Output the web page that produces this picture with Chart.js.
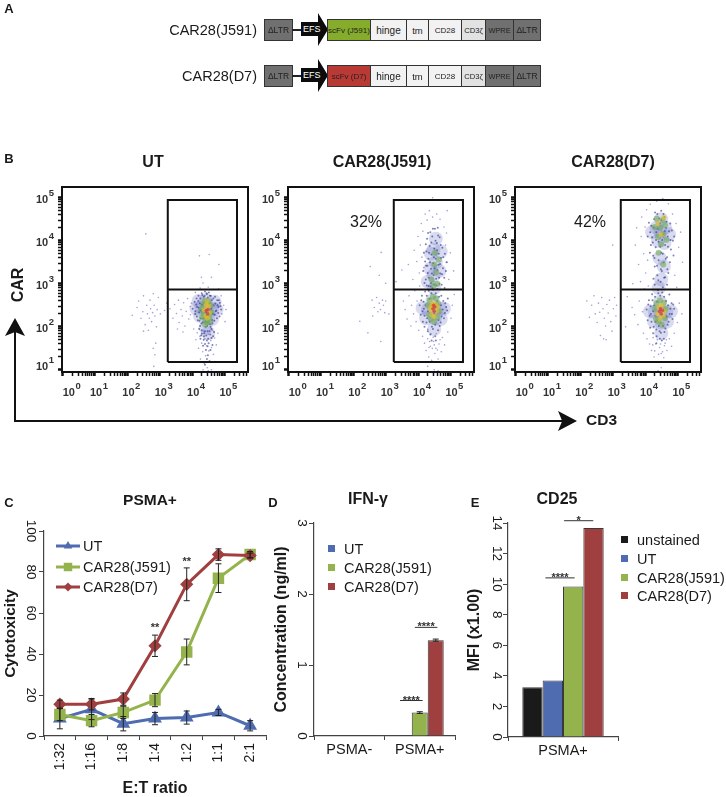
<!DOCTYPE html>
<html>
<head>
<meta charset="utf-8">
<title>CAR28 constructs, flow plots and assays</title>
<script src="https://cdn.jsdelivr.net/npm/chart.js@4/dist/chart.umd.min.js"></script>
<style>
    html, body { margin: 0; background: #fff; }
    #page { position: relative; width: 726px; height: 797px; overflow: hidden; filter: blur(0.35px); font-family: "Liberation Sans", Arial, sans-serif; color: #1a1a1a; }
    #page canvas { position: absolute; }
    .txt { position: absolute; white-space: nowrap; transform: translate(-50%, -50%); }
    .left { transform: translateY(-50%); }
    .right { transform: translate(-100%, -50%); }
    .up { transform: translate(-50%, -50%) rotate(-90deg); }
    .seg { position: absolute; box-sizing: border-box; border: 1px solid #333; display: flex; align-items: center; justify-content: center; white-space: nowrap; overflow: hidden; }
    .box { position: absolute; }
</style>
</head>
<body>
<div id="page"></div>
<script>
// panel C
const ratios = ['1:32', '1:16', '1:8', '1:4', '1:2', '1:1', '2:1'];
const cytoUT = [8.5, 13, 6, 8.5, 9, 11.5, 5];
const cytoJ591 = [10.5, 7.5, 11.5, 17.5, 41, 77, 88.5];
const cytoD7 = [15.5, 15.5, 18, 44, 74, 88.5, 88];
const errUT = [5, 5, 3.5, 3, 3.2, 1.5, 2.5];
const errJ591 = [3, 3, 3, 3.2, 6.3, 7, 1.5];
const errD7 = [2, 2.8, 3, 5.2, 8, 2.8, 1.2];
// panel D
const assayGroups = ['PSMA-', 'PSMA+'];
const concUT = [0.01, 0.005];
const concJ591 = [0.01, 0.33];
const concD7 = [0.01, 1.35];
const concErrJ591 = [0, 0.012];
const concErrD7 = [0, 0.015];
// panel E
const cd25Group = ['PSMA+'];
const mfiNone = [3.25];
const mfiUT = [3.69];
const mfiJ591 = [9.85];
const mfiD7 = [13.67];

// significance marks: [from index, to index, value, text]
const sigC = [[3, 3, 52.7, '**'], [4, 4, 84.9, '**']];
const sigD = [[0.72, 1.04, 0.5, '****'], [0.93, 1.25, 1.53, '****']];
const sigE = [[-0.16, 0.106, 10.41, '****'], [0.01, 0.275, 14.15, '*']];

// flow plots, all in log10 units
const gateX = [3.25, 5.39];
const gateY = [1.18, 2.87, 4.95];
const xDecades = [0, 1, 2, 3, 4, 5];
const yDecades = [1, 2, 3, 4, 5];

const utSparse = [[2.15,2.27],[2.3,2.45],[2.35,2.6],[2.42,2.2],[2.48,2.35],[2.5,2.72],[2.55,2.05],[2.6,2.5],[2.62,2.3],[2.68,2.2],[2.7,2.62],[2.72,2.42],[2.75,2.12],[2.78,2.33],[2.8,2.77],[2.83,2.5],[2.85,2.25],[2.9,2.0],[2.92,2.4],[2.96,2.68],[3.02,2.3],[2.5,1.9],[2.65,1.92],[2.88,1.62],[2.8,1.5],[2.85,1.35],[2.82,1.08],[2.57,4.16],[4.23,3.65],[4.53,3.68],[4.83,3.45],[4.29,3.15],[4.6,3.15],[4.34,3.02],
    [3.32,2.42],[3.41,2.2],[3.46,2.52],[3.52,2.31],[3.58,2.62],[3.6,2.1],[3.66,2.4],[3.7,2.25],[3.74,2.56],[3.78,2.02],[3.82,2.36],[3.86,2.66],[3.9,2.18],[3.94,2.47],[3.55,1.95],[3.72,1.88],[3.15,2.38],[3.22,2.55],
    [4.05,1.95],[4.12,1.7],[4.16,1.86],[4.2,1.5],[4.24,1.78],[4.26,1.25],[4.3,1.62],[4.33,1.42],[4.36,1.9],[4.38,1.15],[4.4,1.72],[4.42,1.33],[4.45,1.56],[4.47,1.05],[4.5,1.83],[4.52,1.44],[4.55,1.2],[4.58,1.68],[4.6,1.52],[4.63,1.92],[4.66,1.36],[4.7,1.74],[4.75,1.58],[4.8,1.85],[4.34,1.0],[4.5,0.98],[4.6,1.0],
    [4.92,2.3],[4.98,2.5],[5.02,2.12],[5.05,2.4],[4.9,2.72],[4.82,2.88],[4.1,2.8],[4.25,2.9],[4.5,2.92],[3.98,2.55],[3.95,2.28]];
const utBlue = [[4.02,2.42],[4.08,2.58],[4.1,2.3],[4.14,2.66],[4.16,2.46],[4.18,2.15],[4.2,2.72],[4.22,2.34],[4.24,2.55],[4.25,2.02],[4.27,2.2],[4.3,2.78],[4.3,1.92],[4.33,2.1],[4.36,2.7],[4.38,1.85],[4.4,2.82],[4.42,2.0],[4.46,2.76],[4.48,1.9],[4.52,2.8],[4.55,2.06],[4.58,2.72],[4.6,1.95],[4.62,2.16],[4.66,2.66],[4.7,2.28],[4.72,2.54],[4.75,2.38],[4.78,2.62],[4.82,2.46],[4.85,2.24],[4.86,2.56],[4.9,2.4],[4.44,1.8],[4.5,1.72],[4.36,1.7],[4.56,1.82],[4.28,1.8],[4.65,1.78],[4.4,1.6],[4.48,1.55],
    [4.1,2.36],[4.13,2.52],[4.15,2.24],[4.19,2.6],[4.21,2.44],[4.23,2.14],[4.26,2.66],[4.26,2.38],[4.29,2.08],[4.31,2.52],[4.32,2.74],[4.35,2.2],[4.37,2.44],[4.39,2.72],[4.41,2.12],[4.43,2.34],[4.45,2.78],[4.47,2.02],[4.49,2.68],[4.51,2.14],[4.53,2.56],[4.55,2.72],[4.57,2.0],[4.59,2.42],[4.61,2.62],[4.63,2.08],[4.65,2.3],[4.67,2.5],[4.69,2.14],[4.71,2.7],[4.73,2.36],[4.77,2.2],[4.79,2.5],[4.81,2.32],[4.83,2.62],[4.88,2.48],
    [4.22,1.95],[4.26,1.72],[4.3,1.84],[4.34,1.56],[4.37,1.78],[4.4,1.9],[4.43,1.46],[4.46,1.68],[4.49,1.34],[4.51,1.62],[4.54,1.9],[4.57,1.46],[4.6,1.74],[4.63,1.58],[4.68,1.88],[4.46,1.25],[4.54,1.2],[4.4,1.12]];
const utHalo = [[4.45,2.4],[4.28,2.45],[4.62,2.42],[4.42,2.62],[4.5,2.2],[4.25,2.25],[4.62,2.18],[4.7,2.58],[4.2,2.6],[4.42,1.98],[4.5,1.85],[4.14,2.42],[4.76,2.4]];
const utGreen = [[4.28,2.4],[4.3,2.22],[4.34,2.52],[4.36,2.3],[4.4,2.62],[4.42,2.16],[4.46,2.1],[4.5,2.6],[4.54,2.22],[4.58,2.5],[4.6,2.34],[4.4,2.05],[4.56,2.12]];
const utYellow = [[4.38,2.4],[4.42,2.26],[4.44,2.5],[4.48,2.2],[4.52,2.48],[4.54,2.32],[4.47,2.58]];
const utRed = [[4.44,2.38],[4.5,2.4],[4.48,2.3]];

const j591Sparse = [[2.86,3.73],[2.8,3.2],[2.52,3.4],[3.0,3.01],[2.58,2.62],[2.65,2.45],[2.72,2.68],[2.76,2.35],[2.8,2.55],[2.84,2.4],[2.9,2.62],[2.93,2.5],[2.97,2.33],[3.0,2.6],[2.6,2.25],[2.2,2.13],[2.45,1.86],[2.85,1.66],[3.1,2.3],
    [3.32,3.05],[3.5,3.32],[3.55,2.6],[3.6,2.4],[3.66,2.18],[3.7,3.45],[3.72,2.72],[3.78,2.02],[3.8,2.5],[3.84,3.1],[3.86,2.3],[3.88,3.78],[3.9,2.84],[3.94,2.12],[3.96,3.52],[3.97,2.6],[4.0,4.1],[4.02,1.92],[4.04,3.25],[4.05,2.95],[4.07,3.9],[4.1,4.4],[4.12,3.62],[4.14,1.78],[4.15,4.22],[4.18,3.38],[4.2,1.62],[4.22,4.62],[4.25,1.45],[4.28,4.48],[4.3,1.72],[4.33,1.3],[4.35,4.7],[4.38,1.55],[4.42,1.22],[4.45,4.55],[4.48,1.66],[4.52,1.38],[4.55,1.5],[4.58,4.62],[4.62,1.25],[4.65,1.6],[4.68,4.5],[4.72,1.42],[4.75,1.75],[4.8,4.32],[4.82,1.58],[4.85,3.9],[4.88,4.18],[4.9,3.5],[4.92,1.88],[4.95,3.1],[5.0,3.72],[5.02,2.2],[5.06,2.5],[5.1,3.3],[5.12,2.75],[4.45,5.0],[4.9,4.7],[4.3,1.08],[4.5,1.0],[4.62,0.98],
    [4.3,1.94],[4.36,1.66],[4.4,1.84],[4.44,1.5],[4.47,1.76],[4.5,1.58],[4.56,1.84],[4.6,1.46],[4.68,1.7],[4.34,1.52]];
const j591Blue = [[4.05,2.5],[4.08,2.28],[4.12,2.72],[4.15,2.12],[4.18,2.42],[4.2,2.0],[4.22,2.82],[4.24,3.1],[4.25,3.42],[4.26,3.75],[4.28,2.2],[4.28,4.05],[4.3,1.9],[4.3,3.25],[4.32,3.58],[4.33,2.95],[4.35,2.65],[4.36,3.88],[4.38,4.2],[4.38,1.82],[4.4,3.35],[4.4,3.02],[4.42,3.68],[4.44,2.9],[4.44,4.1],[4.46,1.95],[4.47,3.48],[4.48,3.2],[4.5,3.82],[4.5,2.98],[4.52,4.28],[4.53,1.78],[4.55,3.58],[4.56,3.12],[4.58,3.95],[4.6,3.32],[4.6,2.88],[4.62,1.92],[4.62,4.12],[4.64,3.7],[4.66,3.0],[4.68,3.46],[4.7,2.1],[4.7,3.9],[4.72,2.72],[4.74,3.22],[4.76,2.4],[4.78,3.62],[4.8,2.2],[4.82,2.9],[4.84,2.55],[4.86,3.3],[4.9,2.38],[4.92,2.66],[4.42,1.68],[4.55,1.68],
    [4.1,2.62],[4.14,2.36],[4.17,2.58],[4.2,2.26],[4.23,2.5],[4.26,2.1],[4.27,2.72],[4.31,2.36],[4.33,2.84],[4.36,2.12],[4.39,2.52],[4.41,2.78],[4.43,2.0],[4.47,2.86],[4.49,2.3],[4.53,2.05],[4.55,2.78],[4.59,2.6],[4.63,2.16],[4.65,2.7],[4.67,2.02],[4.71,2.5],[4.73,2.24],[4.78,2.6],[4.83,2.32],[4.87,2.46],
    [4.16,3.3],[4.18,3.72],[4.2,3.02],[4.22,3.52],[4.24,3.92],[4.27,2.96],[4.29,3.42],[4.31,4.18],[4.34,3.14],[4.34,3.72],[4.37,3.5],[4.39,2.94],[4.41,3.96],[4.43,3.24],[4.46,4.28],[4.49,3.62],[4.51,3.36],[4.54,4.0],[4.57,2.96],[4.59,3.78],[4.61,4.3],[4.63,3.44],[4.65,3.14],[4.67,4.08],[4.71,3.6],[4.73,2.98],[4.75,3.84],[4.77,3.36],[4.81,3.14],[4.83,3.7],[4.88,3.5],[4.69,3.24]];
const j591Halo = [[4.5,2.42],[4.3,2.4],[4.68,2.42],[4.45,2.62],[4.52,2.2],[4.25,2.2],[4.7,2.18],[4.5,2.9],[4.48,3.2],[4.55,3.5],[4.48,3.8],[4.55,4.05],[4.38,3.35],[4.66,3.3],[4.4,3.7],[4.5,1.95],[4.14,2.44],[4.8,2.42],[4.7,3.75],[4.3,3.05]];
const j591Green = [[4.3,2.5],[4.34,2.28],[4.36,2.62],[4.4,2.18],[4.42,3.1],[4.46,2.7],[4.5,2.12],[4.5,3.45],[4.52,3.72],[4.55,2.66],[4.56,3.26],[4.6,2.22],[4.62,2.55],[4.64,3.56],[4.66,2.36],[4.48,2.96],[4.6,3.0]];
const j591Yellow = [[4.38,2.4],[4.42,2.28],[4.44,2.55],[4.5,2.24],[4.54,2.52],[4.58,2.36],[4.6,2.46],[4.4,2.48]];
const j591Red = [[4.46,2.42],[4.5,2.36],[4.52,2.46],[4.48,2.5]];

const d7Sparse = [[2.2,2.6],[2.28,2.22],[2.35,2.5],[2.42,2.72],[2.46,2.3],[2.52,2.1],[2.56,2.55],[2.6,2.34],[2.66,2.68],[2.7,2.42],[2.74,2.2],[2.78,2.02],[2.82,2.52],[2.86,2.32],[2.9,2.62],[2.94,2.12],[2.98,1.9],[3.02,2.42],[3.06,2.68],[3.1,2.25],[3.12,2.5],[2.62,1.8],[2.72,1.72],[2.8,1.7],[3.0,3.9],[3.4,2.0],
    [3.45,2.7],[3.6,2.45],[3.62,3.0],[3.68,2.28],[3.7,3.9],[3.74,4.3],[3.78,2.05],[3.8,3.45],[3.82,2.6],[3.86,3.05],[3.88,4.1],[3.9,4.55],[3.92,2.35],[3.95,1.85],[3.96,3.7],[3.98,2.88],[4.0,4.32],[4.02,3.25],[4.05,4.72],[4.06,1.72],[4.08,3.55],[4.1,2.95],[4.14,1.6],[4.16,4.85],[4.2,1.45],[4.25,1.75],[4.28,1.3],[4.33,1.6],[4.36,4.92],[4.4,1.18],[4.45,1.52],[4.5,1.38],[4.55,4.98],[4.58,1.28],[4.62,1.62],[4.68,1.45],[4.72,4.86],[4.75,1.72],[4.82,1.55],[4.85,4.62],[4.9,1.85],[4.92,3.2],[4.96,4.4],[4.98,2.92],[5.0,2.1],[5.04,3.85],[5.06,2.55],[5.1,4.2],[5.14,2.3],[5.16,3.5],[4.4,0.98],[4.5,1.05],
    [4.24,1.58],[4.3,1.44],[4.38,1.7],[4.42,1.36],[4.48,1.6],[4.54,1.42],[4.6,1.56],[4.66,1.7]];
const d7Blue = [[4.05,2.4],[4.08,2.15],[4.12,2.62],[4.16,1.98],[4.18,2.3],[4.18,3.9],[4.2,4.35],[4.22,2.76],[4.22,4.08],[4.25,1.85],[4.25,3.65],[4.26,3.12],[4.28,2.5],[4.28,4.5],[4.3,3.4],[4.3,2.98],[4.32,2.12],[4.33,3.85],[4.35,4.2],[4.36,1.78],[4.38,4.62],[4.38,3.2],[4.4,2.85],[4.42,3.55],[4.42,3.98],[4.45,1.9],[4.46,4.4],[4.48,3.05],[4.5,3.72],[4.5,4.7],[4.52,3.3],[4.52,1.68],[4.55,2.92],[4.56,4.15],[4.58,3.5],[4.6,4.55],[4.6,1.88],[4.62,3.15],[4.62,3.9],[4.65,4.3],[4.68,2.98],[4.68,3.62],[4.7,2.05],[4.7,4.1],[4.72,3.25],[4.75,2.75],[4.76,2.3],[4.78,4.4],[4.8,3.8],[4.82,2.55],[4.85,2.18],[4.86,4.0],[4.9,2.42],[4.35,1.62],[4.46,1.72],[4.58,1.72],
    [4.1,2.52],[4.14,2.26],[4.17,2.48],[4.2,2.12],[4.23,2.62],[4.25,2.36],[4.27,2.0],[4.31,2.7],[4.33,2.26],[4.35,1.94],[4.37,2.58],[4.41,2.78],[4.43,2.02],[4.47,2.72],[4.49,1.86],[4.53,2.8],[4.56,2.02],[4.59,2.7],[4.63,1.96],[4.65,2.6],[4.67,2.24],[4.71,2.5],[4.73,2.12],[4.78,2.42],[4.83,2.3],[4.87,2.52],
    [4.08,4.1],[4.12,4.42],[4.15,3.72],[4.16,4.2],[4.24,3.96],[4.27,4.3],[4.29,3.6],[4.31,4.66],[4.34,4.02],[4.37,3.42],[4.39,4.28],[4.41,3.08],[4.44,4.52],[4.47,3.86],[4.49,3.34],[4.51,4.48],[4.53,4.02],[4.55,3.7],[4.57,4.62],[4.59,3.14],[4.61,4.22],[4.64,3.58],[4.66,4.44],[4.69,3.34],[4.71,3.86],[4.74,4.22],[4.77,3.5],[4.79,4.02],[4.83,4.24],[4.88,3.66],[4.9,4.1]];
const d7Halo = [[4.48,2.34],[4.3,2.35],[4.66,2.35],[4.46,2.58],[4.5,2.1],[4.28,2.12],[4.68,2.12],[4.5,1.85],[4.48,4.2],[4.35,4.3],[4.62,4.3],[4.4,4.0],[4.6,3.95],[4.5,4.5],[4.45,3.6],[4.58,3.4],[4.5,3.1],[4.42,2.9],[4.15,2.36],[4.8,2.36],[4.22,4.2],[4.74,4.15]];
const d7Green = [[4.3,2.42],[4.34,2.18],[4.36,2.55],[4.42,2.12],[4.46,2.62],[4.52,2.05],[4.58,2.56],[4.62,2.2],[4.64,2.42],[4.3,4.32],[4.36,4.52],[4.4,4.08],[4.46,4.3],[4.5,3.92],[4.54,4.48],[4.56,4.16],[4.62,4.36],[4.66,4.02],[4.42,3.72],[4.56,3.45]];
const d7Yellow = [[4.38,2.3],[4.42,2.46],[4.46,2.18],[4.52,2.5],[4.56,2.26],[4.6,2.36],[4.4,4.4],[4.5,4.14],[4.58,4.54]];
const d7Red = [[4.44,2.36],[4.5,2.3],[4.48,2.42],[4.54,2.38]];

// construct rows in panel A
const segNames = ['hinge', 'tm', 'CD28', 'CD3ζ', 'WPRE', 'ΔLTR'];
const segColors = ['#f2f2f2', '#f2f2f2', '#f2f2f2', '#e2e2e2', '#707070', '#707070'];
const segFonts = [10, 9.5, 8, 7.6, 7.4, 8.5];
const segEdges = [370, 406, 428, 461, 485, 513, 540];

const ink = '#1a1a1a';
const axisGrey = '#444';
const blue = '#4f6cb0';
const green = '#95b34c';
const red = '#a03f3f';
const page = document.getElementById('page');

function addText(text, x, y, size, opts = {}) {
    const el = document.createElement('div');
    el.className = 'txt ' + (opts.cls || '');
    el.textContent = text;
    el.style.left = x + 'px';
    el.style.top = y + 'px';
    el.style.fontSize = size + 'px';
    if (opts.bold) el.style.fontWeight = 'bold';
    page.appendChild(el);
}
function addBox(x, y, w, h, color, clip) {
    const el = document.createElement('div');
    el.className = 'box';
    el.style.cssText = `left:${x}px;top:${y}px;width:${w}px;height:${h}px;background:${color};` + (clip ? `clip-path:${clip};` : '');
    page.appendChild(el);
}
function addSeg(text, x0, x1, y, color, size) {
    const el = document.createElement('div');
    el.className = 'seg';
    el.textContent = text;
    el.style.cssText = `left:${x0}px;top:${y}px;width:${x1 - x0 + 1}px;height:22px;background:${color};color:#222;font-size:${size}px;`;
    page.appendChild(el);
}
function addCanvas(x, y, w, h) {
    const c = document.createElement('canvas');
    c.width = w;
    c.height = h;
    c.style.left = x + 'px';
    c.style.top = y + 'px';
    page.appendChild(c);
    return c.getContext('2d');
}

// panel A
function drawConstruct(label, y, scfv, scfvColor) {
    addText(label, 257, y + 10.5, 14.5, { cls: 'right' });
    addSeg('ΔLTR', 264, 292, y, '#707070', 8.5);
    addBox(292, y + 10, 10, 1.5, '#222');
    const arrow = document.createElement('div');
    arrow.className = 'box';
    arrow.textContent = 'EFS';
    arrow.style.cssText = `left:301px;top:${y - 6}px;width:28px;height:33px;background:#0c0c0c;color:#fff;font-size:9px;line-height:33px;text-indent:2px;clip-path:polygon(0 9px,17px 9px,17px 0,27px 16.5px,17px 33px,17px 23px,0 23px);`;
    page.appendChild(arrow);
    addSeg(scfv, 327, 370, y, scfvColor, 8);
    segNames.forEach((name, i) => {
        addSeg(name, segEdges[i], segEdges[i + 1], y, segColors[i], segFonts[i]);
    });
}
drawConstruct('CAR28(J591)', 19, 'scFv (J591)', '#86ac2c');
drawConstruct('CAR28(D7)', 65, 'scFv (D7)', '#b93a35');

addText('A', 9, 8, 13, { bold: true });
addText('B', 9, 158, 13, { bold: true });
addText('C', 9, 502, 13, { bold: true });
addText('D', 273, 502, 13, { bold: true });
addText('E', 475, 502, 13, { bold: true });

addText('UT', 153, 162, 16, { bold: true });
addText('CAR28(J591)', 382, 162, 16, { bold: true });
addText('CAR28(D7)', 613, 162, 16, { bold: true });
addText('CAR', 18, 285, 16, { bold: true, cls: 'up' });
addText('CD3', 586, 420, 15.5, { bold: true, cls: 'left' });
addText('32%', 366, 222, 16);
addText('42%', 590, 222, 16);

// big axes arrows of panel B
addBox(14, 325, 2, 97, '#111');
addBox(14, 420, 548, 2, '#111');
addBox(5, 318, 20, 18, '#111', 'polygon(50% 0,100% 100%,50% 78%,0 100%)');
addBox(558, 411, 19, 20, '#111', 'polygon(0 0,100% 50%,0 100%,22% 50%)');

addText('PSMA+', 150, 500, 15.5, { bold: true });
addText('IFN-γ', 368, 499, 16, { bold: true });
addText('CD25', 557, 499, 16, { bold: true });

// legends of D and E
function squareLegend(names, colors, x, ys) {
    names.forEach((name, i) => {
        addBox(x, ys[i] - 4, 7, 7, colors[i]);
        addText(name, x + 16, ys[i], 14.5, { cls: 'left' });
    });
}
squareLegend(['UT', 'CAR28(J591)', 'CAR28(D7)'], [blue, green, red], 328, [549, 568, 587]);
squareLegend(['unstained', 'UT', 'CAR28(J591)', 'CAR28(D7)'], [ink, blue, green, red], 621, [540, 559, 577.5, 596]);

const fixSize = (prop, size) => function(scale) { scale[prop] = size; };

const errorBars = {
    id: 'errorBars',
    afterDatasetsDraw(chart) {
        const { ctx, scales: { y } } = chart;
        ctx.save();
        ctx.strokeStyle = '#222';
        ctx.lineWidth = 1;
        chart.data.datasets.forEach((ds, d) => {
            if (!ds.errors) return;
            chart.getDatasetMeta(d).data.forEach((el, i) => {
                if (!ds.errors[i]) return;
                const top = y.getPixelForValue(ds.data[i] + ds.errors[i]);
                const bot = y.getPixelForValue(ds.data[i] - ds.errors[i]);
                ctx.beginPath();
                ctx.moveTo(el.x, top);
                ctx.lineTo(el.x, bot);
                ctx.moveTo(el.x - 3, top);
                ctx.lineTo(el.x + 3, top);
                ctx.moveTo(el.x - 3, bot);
                ctx.lineTo(el.x + 3, bot);
                ctx.stroke();
            });
        });
        ctx.restore();
    }
};

const sigMarks = {
    id: 'sigMarks',
    afterDraw(chart, args, opts) {
        const { ctx, scales: { x, y } } = chart;
        ctx.save();
        ctx.fillStyle = '#333';
        ctx.strokeStyle = '#333';
        ctx.lineWidth = 1;
        ctx.font = 'bold 11px "Liberation Sans"';
        ctx.textAlign = 'center';
        opts.marks.forEach(([from, to, val, text]) => {
            const x0 = x.getPixelForValue(from);
            const x1 = x.getPixelForValue(to);
            const py = y.getPixelForValue(val);
            if (to > from) {
                ctx.beginPath();
                ctx.moveTo(x0, py);
                ctx.lineTo(x1, py);
                ctx.stroke();
            }
            ctx.fillText(text, (x0 + x1) / 2, py + 3);
        });
        ctx.restore();
    }
};

function assayY(title, max, step, width, titlePad, tickPad, titleSize) {
    return {
        min: 0,
        max: max,
        afterFit: fixSize('width', width),
        border: { color: axisGrey, width: 1.2 },
        grid: { drawOnChartArea: false, color: axisGrey, tickLength: 5 },
        ticks: {
            stepSize: step,
            color: ink,
            font: { size: 13.5, family: '"Liberation Sans"' },
            minRotation: -90,
            maxRotation: -90,
            crossAlign: 'center',
            padding: tickPad
        },
        title: {
            display: true,
            text: title,
            color: ink,
            font: { size: titleSize, weight: 'bold', family: '"Liberation Sans"' },
            padding: { top: titlePad, bottom: 0 }
        }
    };
}
function assayX(height) {
    return {
        afterFit: fixSize('height', height),
        border: { color: axisGrey, width: 1.2 },
        grid: { drawOnChartArea: false, offset: true, color: axisGrey, tickLength: 4 },
        ticks: { color: ink, font: { size: 14.5, family: '"Liberation Sans"' }, padding: 1, maxRotation: 0 }
    };
}

// panel C
new Chart(addCanvas(0, 515, 280, 282), {
    type: 'line',
    data: {
        labels: ratios,
        datasets: [
            { label: 'CAR28(D7)', data: cytoD7, errors: errD7, borderColor: red, backgroundColor: red, borderWidth: 3, pointStyle: 'rectRot', pointRadius: 4.5 },
            { label: 'CAR28(J591)', data: cytoJ591, errors: errJ591, borderColor: green, backgroundColor: green, borderWidth: 3, pointStyle: 'rect', pointRadius: 6 },
            { label: 'UT', data: cytoUT, errors: errUT, borderColor: blue, backgroundColor: blue, borderWidth: 3, pointStyle: 'triangle', pointRadius: 5 }
        ]
    },
    options: {
        responsive: false,
        animation: false,
        layout: { padding: { top: 16, right: 14 } },
        plugins: { legend: { display: false }, tooltip: { enabled: false }, sigMarks: { marks: sigC } },
        scales: {
            x: {
                offset: true,
                afterFit: fixSize('height', 61),
                border: { color: axisGrey, width: 1.2 },
                grid: { drawOnChartArea: false, offset: true, color: axisGrey, tickLength: 4 },
                ticks: { color: ink, font: { size: 14, family: '"Liberation Sans"' }, minRotation: 90, maxRotation: 90, padding: 3 },
                title: { display: true, text: 'E:T ratio', color: ink, font: { size: 16, weight: 'bold', family: '"Liberation Sans"', lineHeight: 1 }, padding: 0 }
            },
            y: assayY('Cytotoxicity', 100, 20, 44, 1, -3, 15.5)
        }
    },
    plugins: [errorBars, sigMarks]
});

// legend of C, drawn with the same marker shapes
const lineLegend = addCanvas(50, 535, 36, 64);
[[blue, 'triangle', 11, 5], [green, 'rect', 32, 6], [red, 'rectRot', 52, 4.5]].forEach(([color, shape, y, r]) => {
    lineLegend.strokeStyle = color;
    lineLegend.fillStyle = color;
    lineLegend.lineWidth = 3;
    lineLegend.beginPath();
    lineLegend.moveTo(6, y);
    lineLegend.lineTo(30, y);
    lineLegend.stroke();
    Chart.helpers.drawPoint(lineLegend, { pointStyle: shape, radius: r, rotation: 0 }, 18, y);
});
addText('UT', 83, 546, 14.5, { cls: 'left' });
addText('CAR28(J591)', 83, 567, 14.5, { cls: 'left' });
addText('CAR28(D7)', 83, 587, 14.5, { cls: 'left' });

// panel D
new Chart(addCanvas(272, 510, 190, 250), {
    type: 'bar',
    data: {
        labels: assayGroups,
        datasets: [
            { label: 'UT', data: concUT, backgroundColor: blue },
            { label: 'CAR28(J591)', data: concJ591, errors: concErrJ591, backgroundColor: green },
            { label: 'CAR28(D7)', data: concD7, errors: concErrD7, backgroundColor: red }
        ]
    },
    options: {
        responsive: false,
        animation: false,
        layout: { padding: { top: 13, right: 7 } },
        datasets: { bar: { categoryPercentage: 0.68, barPercentage: 1, borderWidth: 1, borderColor: '#3a3a3a' } },
        plugins: { legend: { display: false }, tooltip: { enabled: false }, sigMarks: { marks: sigD } },
        scales: {
            x: assayX(24),
            y: assayY('Concentration (ng/ml)', 3, 1, 42, 0, 4, 16)
        }
    },
    plugins: [errorBars, sigMarks]
});

// panel E
new Chart(addCanvas(462, 505, 160, 255), {
    type: 'bar',
    data: {
        labels: cd25Group,
        datasets: [
            { label: 'unstained', data: mfiNone, backgroundColor: ink },
            { label: 'UT', data: mfiUT, backgroundColor: blue },
            { label: 'CAR28(J591)', data: mfiJ591, backgroundColor: green },
            { label: 'CAR28(D7)', data: mfiD7, backgroundColor: red }
        ]
    },
    options: {
        responsive: false,
        animation: false,
        layout: { padding: { top: 18, right: 4 } },
        datasets: { bar: { categoryPercentage: 0.74, barPercentage: 1, borderWidth: 1, borderColor: '#3a3a3a' } },
        plugins: { legend: { display: false }, tooltip: { enabled: false }, sigMarks: { marks: sigE } },
        scales: {
            x: assayX(23),
            y: assayY('MFI (x1.00)', 14, 2, 46, 3, -1, 16)
        }
    },
    plugins: [sigMarks]
});

// panel B
const drawDecade = (ctx, n, x, y, size) => {
    ctx.font = `bold ${size}px "Liberation Sans"`;
    ctx.textAlign = 'left';
    ctx.textBaseline = 'middle';
    ctx.fillText('10', x, y);
    const w = ctx.measureText('10').width;
    ctx.font = `bold ${size - 1.5}px "Liberation Sans"`;
    ctx.fillText(String(n), x + w + 0.5, y - 6.5);
};
const plotFrame = {
    id: 'plotFrame',
    afterDraw(chart) {
        const { ctx, chartArea: a, scales: { x, y } } = chart;
        ctx.save();
        ctx.strokeStyle = '#111';
        ctx.lineWidth = 2;
        ctx.strokeRect(a.left, a.top, a.right - a.left, a.bottom - a.top);
        ctx.fillStyle = '#333';
        xDecades.forEach(n => {
            drawDecade(ctx, n, x.getPixelForValue(n) + (n === 0 ? 0 : -5), a.bottom + 21, 11);
        });
        yDecades.forEach(n => {
            drawDecade(ctx, n, a.left - 26, y.getPixelForValue(n) + (n === 1 ? -3 : 2), 11);
        });
        ctx.restore();
    }
};
const decadeTicks = decades => function(scale) {
    const ticks = [];
    decades.forEach(n => {
        for (let k = 1; k < 10; k++) {
            const v = n + Math.log10(k);
            if (v <= scale.max) ticks.push({ value: v, major: k === 1 });
        }
    });
    scale.ticks = ticks;
};
const flowAxis = (min, max, decades, fitProp, fitSize) => ({
    type: 'linear',
    min: min,
    max: max,
    afterBuildTicks: decadeTicks(decades),
    afterFit: fixSize(fitProp, fitSize),
    border: { display: false },
    grid: {
        drawOnChartArea: false,
        color: '#111',
        tickLength: 4,
        tickWidth: ctx => (ctx.tick && ctx.tick.major ? 2.5 : 1.5)
    },
    ticks: { display: false, autoSkip: false }
});
const dots = (data, color, radius) => ({ data: data, pointRadius: radius, backgroundColor: color, borderWidth: 0, showLine: false });

function flowPlot(left, sparse, blueDots, halo, greenDots, yellowDots, redDots) {
    const [x0, x1] = gateX;
    const [y0, ym, y1] = gateY;
    const gatePath = [{ x: x0, y: y0 }, { x: x1, y: y0 }, { x: x1, y: y1 }, { x: x0, y: y1 }, { x: x0, y: y0 }, { x: x0, y: ym }, { x: x1, y: ym }];
    const pts = list => list.map(p => ({ x: p[0], y: p[1] }));
    new Chart(addCanvas(left, 180, 230, 227), {
        type: 'scatter',
        data: {
            datasets: [
                { data: gatePath, showLine: true, borderColor: '#111', borderWidth: 2, pointRadius: 0, fill: false },
                dots(pts(redDots), 'rgba(214,60,40,0.75)', 1.8),
                dots(pts(yellowDots), 'rgba(222,190,40,0.7)', 2.5),
                dots(pts(greenDots), 'rgba(110,170,90,0.6)', 3),
                dots(pts(blueDots), 'rgba(40,45,135,0.6)', 1),
                dots(pts(sparse), 'rgba(95,95,200,0.6)', 0.8),
                dots(pts(halo), 'rgba(90,100,190,0.24)', 7)
            ]
        },
        options: {
            responsive: false,
            animation: false,
            clip: false,
            layout: { padding: { top: 6, right: 4 } },
            plugins: { legend: { display: false }, tooltip: { enabled: false } },
            scales: {
                x: flowAxis(-0.02, 5.73, xDecades, 'height', 35),
                y: flowAxis(0.95, 5.25, yDecades, 'width', 37)
            }
        },
        plugins: [plotFrame]
    });
}
flowPlot(25, utSparse, utBlue, utHalo, utGreen, utYellow, utRed);
flowPlot(251, j591Sparse, j591Blue, j591Halo, j591Green, j591Yellow, j591Red);
flowPlot(478, d7Sparse, d7Blue, d7Halo, d7Green, d7Yellow, d7Red);
</script>
</body>
</html>
